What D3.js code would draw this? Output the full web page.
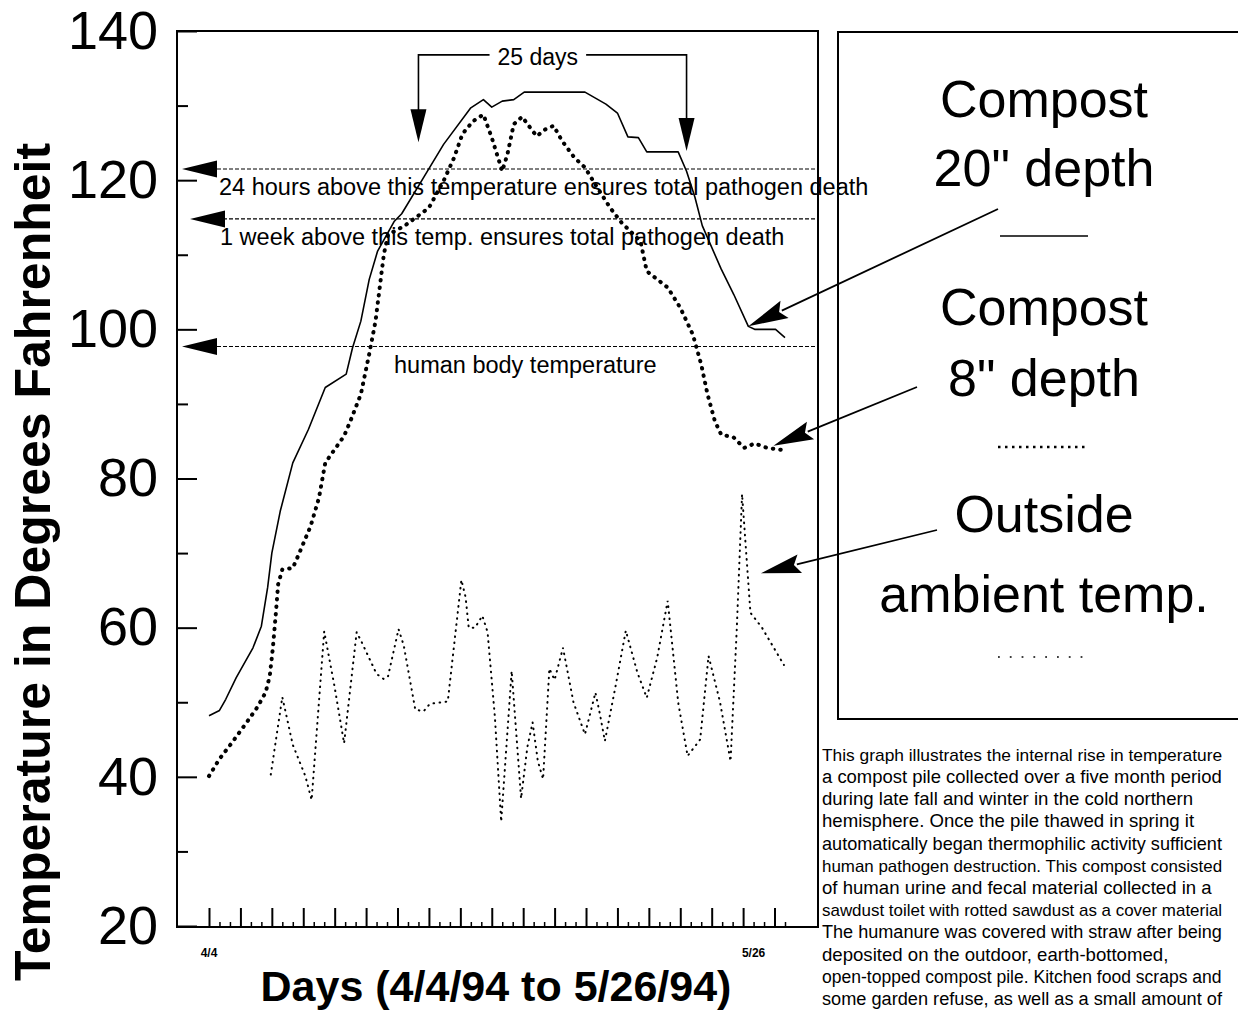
<!DOCTYPE html>
<html><head><meta charset="utf-8">
<script src="https://cdn.jsdelivr.net/npm/d3@7"></script>
<style>
body{margin:0;background:#fff}
svg{display:block}
text{font-family:"Liberation Sans",Arial,Helvetica,sans-serif;fill:#000}
</style>
</head><body>
<svg id="chart" width="1238" height="1012"></svg>
<script>
// ---------- DATA ----------
// Compost 20" depth (solid)
const days20 = [0,1.0,1.6,2.6,4.2,5.0,5.6,6.0,6.8,8.0,9.5,11.1,13.1,13.7,14.5,15.3,16.1,17.7,18.4,20.6,22.4,25.0,26.2,27.0,28.0,29.1,30.1,35.9,37.9,39.0,40.0,41.0,41.8,44.8,45.6,46.4,47.1,48.9,50.1,51.5,52.1,54.1,55.0];
const temp20 = [48.2,48.9,50.4,53.3,57.3,60.2,65.4,70.0,75.6,82.1,86.6,92.2,94.0,97.5,101.1,106.7,110.5,114.5,115.5,120.6,124.8,129.7,130.8,129.8,130.6,130.8,131.8,131.8,130.2,129.0,125.8,125.7,123.8,123.8,121.2,117.7,113.9,108.1,104.7,100.4,100.0,100.0,98.9];
// Compost 8" depth (heavy dotted)
const days8 = [0,1.0,2.2,3.6,4.6,5.4,5.8,6.1,6.4,6.6,7.0,8.0,8.5,9.7,10.5,11.1,11.9,12.9,13.5,14.5,15.3,15.9,16.3,16.7,17.1,18.7,21.0,22.4,23.4,24.2,25.2,26.2,27.0,28.0,28.5,29.1,29.9,30.9,31.3,32.1,32.9,33.7,34.9,35.9,36.9,38.3,39.4,41.2,41.8,43.8,45.0,46.2,47.0,47.6,48.3,48.9,50.1,51.1,52.1,53.3,54.9];
const temp8 = [40.1,42.4,44.6,47.3,49.3,51.3,53.5,57.3,62.2,65.8,67.8,68.0,69.6,73.6,77.4,82.1,83.7,85.7,87.7,91.3,96.7,101.1,105.6,110.1,112.7,113.9,116.3,119.9,123.0,126.2,127.9,128.8,125.7,121.2,123.5,127.5,128.5,126.6,125.9,126.8,127.3,125.3,123.0,121.7,119.4,116.3,114.3,111.8,107.8,105.6,102.9,99.3,95.3,91.3,87.7,85.9,85.5,84.1,84.7,84.1,83.8];
// Outside ambient temperature (light dotted)
const daysAmb = [5.9,7.0,8.0,9.2,9.8,11.0,12.0,12.9,14.1,14.6,16.0,16.7,17.1,18.1,18.6,19.7,20.5,21.1,22.8,24.1,24.5,24.8,25.4,26.1,26.6,27.3,27.9,28.9,29.8,30.4,30.9,31.4,31.9,32.5,33.0,33.8,34.8,35.9,36.9,37.3,37.8,38.8,39.8,40.9,41.8,42.8,43.8,44.8,45.7,46.9,47.7,48.8,49.8,50.4,50.9,51.7,52.8,54.9];
const tempAmb = [40.3,50.7,44.3,40.1,36.9,59.5,52.0,44.5,59.4,58.0,53.8,53.1,53.5,59.8,57.6,49.0,48.8,49.8,50.1,66.4,64.1,60.0,60.0,61.6,59.4,48.0,34.0,54.2,37.1,44.0,47.3,42.1,39.7,54.5,53.0,57.3,50.0,45.7,51.3,48.6,44.8,52.0,59.6,54.0,50.6,56.0,63.6,50.0,42.8,45.0,56.2,50.0,42.1,60.0,77.9,62.0,60.0,55.0];

// axes
const yLabelTicks = [20,40,60,80,100,120,140];
const yMinorTicks = [30,50,70,90,110,130];
const xTickDays = d3.range(0,56);
const xLabelDays = [0,52];
const xLabels = ["4/4","5/26"];

// reference temperatures
const refValues = [121.5,114.8,97.7];
const refLabels = ["24 hours above this temperature ensures total pathogen death",
                   "1 week above this temp. ensures total pathogen death",
                   "human body temperature"];

// "25 days" bracket (days)
const bracketDays = [20,45.6];
const bracketTips = [125.1,123.9];

// legend
const legendLines = [["Compost","20\" depth"],["Compost","8\" depth"],["Outside","ambient temp."]];
// pointer tips (day, temp)
const pointerDays = [51.5,53.9,52.7];
const pointerTemps = [100.4,84.4,67.3];

const noteLines = [
 "This graph illustrates the internal rise in temperature",
 "a compost pile collected over a five month period",
 "during late fall and winter in the cold northern",
 "hemisphere. Once the pile thawed in spring it",
 "automatically began thermophilic activity sufficient",
 "human pathogen destruction. This compost consisted",
 "of human urine and fecal material collected in a",
 "sawdust toilet with rotted sawdust as a cover material",
 "The humanure was covered with straw after being",
 "deposited on the outdoor, earth-bottomed,",
 "open-topped compost pile. Kitchen food scraps and",
 "some garden refuse, as well as a small amount of"
];

// ---------- CHART ----------
const FONT = '"Liberation Sans",Arial,Helvetica,sans-serif';
const svg = d3.select("#chart");
svg.append("rect").attr("width",1238).attr("height",1012).attr("fill","#fff");

const x = d3.scaleLinear().domain([0,55]).range([209,785]);
const y = d3.scaleLinear().domain([20,140]).range([926,31]);
const F = {left:177,right:818,top:31,bottom:927};

// frame
svg.append("rect").attr("x",F.left).attr("y",F.top).attr("width",F.right-F.left).attr("height",F.bottom-F.top)
  .attr("fill","none").attr("stroke","#000").attr("stroke-width",2);

// y axis
const gy = svg.append("g").attr("transform",`translate(${F.left},0)`)
  .call(d3.axisLeft(y).tickValues(yLabelTicks).tickSizeInner(-20).tickSizeOuter(0).tickPadding(19).tickFormat(d3.format("d")));
gy.select(".domain").remove();
gy.selectAll("line").attr("stroke","#000").attr("stroke-width",2);
gy.selectAll("text").attr("font-size",54).attr("font-family",FONT).attr("fill","#000");
const gy2 = svg.append("g").attr("transform",`translate(${F.left},0)`)
  .call(d3.axisLeft(y).tickValues(yMinorTicks).tickSizeInner(-11).tickSizeOuter(0).tickFormat(""));
gy2.select(".domain").remove();
gy2.selectAll("line").attr("stroke","#000").attr("stroke-width",2);

// x axis ticks (inward)
const gx = svg.append("g").attr("transform",`translate(0,${F.bottom})`)
  .call(d3.axisBottom(x).tickValues(xTickDays.filter(d=>d%3===0)).tickSizeInner(-19).tickSizeOuter(0).tickFormat(""));
gx.select(".domain").remove();
gx.selectAll("line").attr("stroke","#000").attr("stroke-width",2);
const gx2 = svg.append("g").attr("transform",`translate(0,${F.bottom})`)
  .call(d3.axisBottom(x).tickValues(xTickDays.filter(d=>d%3!==0)).tickSizeInner(-5).tickSizeOuter(0).tickFormat(""));
gx2.select(".domain").remove();
gx2.selectAll("line").attr("stroke","#000").attr("stroke-width",1.5);

svg.selectAll(".xlab").data(xLabelDays).enter().append("text")
  .attr("x",d=>x(d)).attr("y",957).attr("text-anchor","middle")
  .attr("font-size",12).attr("font-weight","bold").text((d,i)=>xLabels[i]);

// axis titles
svg.append("text").attr("transform","translate(50,562) rotate(-90)").attr("text-anchor","middle")
  .attr("font-size",50).attr("font-weight","bold").text("Temperature in Degrees Fahrenheit");
svg.append("text").attr("x",496).attr("y",1001).attr("text-anchor","middle")
  .attr("font-size",43).attr("font-weight","bold").text("Days (4/4/94 to 5/26/94)");

// reference lines with arrows
const refTipX = [182,190,182];
const refLabelX = [219,220,394];
const refLabelDy = [26,26,27];
refValues.forEach((v,i)=>{
  const yy = y(v);
  svg.append("line").attr("x1",217).attr("x2",F.right).attr("y1",yy).attr("y2",yy)
    .attr("stroke","#000").attr("stroke-width",1.2).attr("stroke-dasharray","4 2");
  svg.append("path").attr("d",`M${refTipX[i]},${yy}L${refTipX[i]+35},${yy-8.5}L${refTipX[i]+35},${yy+8.5}Z`).attr("fill","#000");
  svg.append("text").attr("x",refLabelX[i]).attr("y",yy+refLabelDy[i]).attr("font-size",23.5).text(refLabels[i]);
});

// series
const line = d3.line().x(d=>x(d[0])).y(d=>y(d[1]));
const s20 = days20.map((d,i)=>[d,temp20[i]]);
const s8 = days8.map((d,i)=>[d,temp8[i]]);
const sAmb = daysAmb.map((d,i)=>[d,tempAmb[i]]);
svg.append("path").datum(sAmb).attr("d",line).attr("fill","none").attr("stroke","#000")
  .attr("stroke-width",2).attr("stroke-dasharray","0.6 5.5").attr("stroke-linecap","round");
svg.append("path").datum(s8).attr("d",line).attr("fill","none").attr("stroke","#000")
  .attr("stroke-width",4).attr("stroke-dasharray","0.5 7").attr("stroke-linecap","round");
svg.append("path").datum(s20).attr("d",line).attr("fill","none").attr("stroke","#000")
  .attr("stroke-width",1.6).attr("stroke-linejoin","round");

// 25 days bracket
const bTop = y(136.8);
const tCx = x(31.4), tBase = y(135.4);
const t25 = svg.append("text").attr("x",tCx).attr("y",tBase).attr("text-anchor","middle").attr("font-size",23).text("25 days");
const tw = t25.node().getComputedTextLength();
function downArrow(px, tipY){
  svg.append("path").attr("d",`M${px},${tipY}L${px-8},${tipY-33}L${px+8},${tipY-33}Z`).attr("fill","#000");
}
const bl = x(bracketDays[0]), br = x(bracketDays[1]);
svg.append("path").attr("d",`M${tCx-tw/2-8},${bTop}H${bl}V${y(bracketTips[0])-30}`).attr("fill","none").attr("stroke","#000").attr("stroke-width",1.6);
svg.append("path").attr("d",`M${tCx+tw/2+8},${bTop}H${br}V${y(bracketTips[1])-30}`).attr("fill","none").attr("stroke","#000").attr("stroke-width",1.6);
downArrow(bl, y(bracketTips[0]));
downArrow(br, y(bracketTips[1]));

// legend box
svg.append("rect").attr("x",838).attr("y",32).attr("width",430).attr("height",687)
  .attr("fill","none").attr("stroke","#000").attr("stroke-width",2);
const legCx = 1044;
const legBase = [[117,186],[325,396],[532,612]];
legendLines.forEach((pair,i)=>{
  pair.forEach((t,j)=>{
    svg.append("text").attr("x",legCx).attr("y",legBase[i][j]).attr("text-anchor","middle").attr("font-size",52).text(t);
  });
});
const sampleY = [236,447,657];
svg.append("line").attr("x1",1000).attr("x2",1088).attr("y1",sampleY[0]).attr("y2",sampleY[0]).attr("stroke","#000").attr("stroke-width",1.6);
svg.append("line").attr("x1",998).attr("x2",1089).attr("y1",sampleY[1]).attr("y2",sampleY[1]).attr("stroke","#000").attr("stroke-width",2.5).attr("stroke-dasharray","2.5 4.5");
svg.append("line").attr("x1",998).attr("x2",1086).attr("y1",sampleY[2]).attr("y2",sampleY[2]).attr("stroke","#000").attr("stroke-width",1.6).attr("stroke-dasharray","1.8 10");

// pointers from legend to curves
const pointerStarts = [[998,209],[917,387],[937,530]];
function pointer(x1,y1,x2,y2,len,half){
  const dx=x2-x1, dy=y2-y1, L=Math.hypot(dx,dy), ux=dx/L, uy=dy/L;
  const bx=x2-ux*len, by=y2-uy*len;
  svg.append("line").attr("x1",x1).attr("y1",y1).attr("x2",bx+ux*3).attr("y2",by+uy*3).attr("stroke","#000").attr("stroke-width",1.8);
  svg.append("path").attr("d",`M${x2},${y2}L${bx-uy*half},${by+ux*half}L${bx+ux*6},${by+uy*6}L${bx+uy*half},${by-ux*half}Z`).attr("fill","#000");
}
pointerDays.forEach((d,i)=>{
  pointer(pointerStarts[i][0],pointerStarts[i][1],x(d),y(pointerTemps[i]),40,9.5);
});

// note text (lines that would run past the page edge get a smaller font)
const noteX = 822, noteMaxW = 400, noteFs = 18.6;
svg.append("g").selectAll("text").data(noteLines).enter().append("text")
  .attr("x",noteX).attr("y",(d,i)=>760.7+i*22.2).attr("font-size",noteFs).text(d=>d)
  .each(function(){
    const w = this.getComputedTextLength();
    if (w > noteMaxW) d3.select(this).attr("font-size", (noteFs*noteMaxW/w).toFixed(2));
  });
</script>
</body></html>
